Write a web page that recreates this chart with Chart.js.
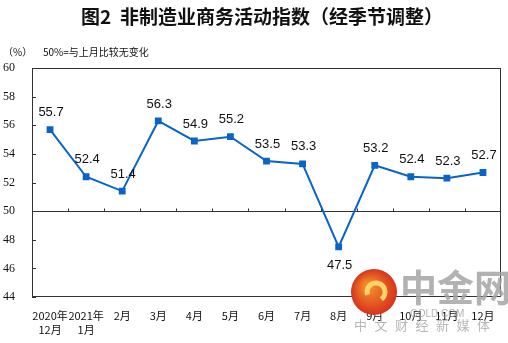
<!DOCTYPE html>
<html lang="zh">
  <head>
    <meta charset="UTF-8" />
    <title>非制造业商务活动指数</title>
    <script src="https://cdn.jsdelivr.net/npm/chart.js@4"></script>
    <style>
      html, body { margin: 0; padding: 0; background: #fff; }
      #wrap { width: 508px; height: 343px; position: relative; }
    </style>
  </head>
  <body>
    <div id="wrap"><canvas id="pmi-chart" width="508" height="343"></canvas></div>
    <script>
      const months = [
        ["2020年", "12月"], ["2021年", "1月"], "2月", "3月", "4月", "5月",
        "6月", "7月", "8月", "9月", "10月", "11月", "12月",
      ];
      const pmiValues = [55.7, 52.4, 51.4, 56.3, 54.9, 55.2, 53.5, 53.3, 47.5, 53.2, 52.4, 52.3, 52.7];
      const yTicks = [44, 46, 48, 50, 52, 54, 56, 58, 60];
      const baseline = 50;
      const chartTitle = "图2  非制造业商务活动指数（经季节调整）";

      const lineBlue = "#0a64c8";
      const axisColor = "#333";

      // frame, 50 line, inward ticks, titles, value labels, watermark
      const decorations = {
        id: "decorations",
        beforeDatasetsDraw(chart) {
          const { ctx, chartArea: a, scales } = chart;
          const y = scales.y;
          ctx.save();
          ctx.strokeStyle = axisColor;
          ctx.lineWidth = 1;
          ctx.strokeRect(a.left + 0.5, a.top + 0.5, a.right - a.left - 1, a.bottom - a.top - 1);
          const y50 = Math.round(y.getPixelForValue(baseline)) + 0.5;
          ctx.beginPath();
          ctx.moveTo(a.left, y50);
          ctx.lineTo(a.right, y50);
          yTicks.forEach((v) => {
            const py = Math.round(y.getPixelForValue(v)) + 0.5;
            ctx.moveTo(a.left, py);
            ctx.lineTo(a.left + 4, py);
          });
          const step = (a.right - a.left) / months.length;
          for (let i = 1; i < months.length; i++) {
            const px = Math.round(a.left + step * i) + 0.5;
            ctx.moveTo(px, y50);
            ctx.lineTo(px, y50 - 3);
          }
          ctx.stroke();
          ctx.restore();
        },
        afterDatasetsDraw(chart) {
          const { ctx } = chart;
          const meta = chart.getDatasetMeta(0);
          ctx.save();
          ctx.fillStyle = "#111";
          ctx.font = "bold 19px 'Noto Sans CJK SC'";
          ctx.textAlign = "center";
          ctx.textBaseline = "middle";
          ctx.fillText(chartTitle, 262, 17);
          ctx.font = "10px 'Noto Sans CJK SC'";
          ctx.textAlign = "left";
          ctx.fillText("（%）", 3, 52);
          ctx.fillText("50%=与上月比较无变化", 43, 52);

          ctx.font = "13px 'Liberation Sans'";
          ctx.textAlign = "center";
          meta.data.forEach((pt, i) => {
            const v = pmiValues[i];
            const dy = v < baseline ? 19 : -17;
            ctx.fillText(v.toFixed(1), pt.x + 1, pt.y + dy);
          });

          // watermark
          const cx = 374, cy = 292;
          const g = ctx.createRadialGradient(cx - 6, cy - 6, 4, cx, cy, 23);
          g.addColorStop(0, "#f08a2a");
          g.addColorStop(1, "#d8321c");
          ctx.fillStyle = g;
          ctx.beginPath();
          ctx.arc(cx, cy, 23, 0, Math.PI * 2);
          ctx.fill();
          ctx.strokeStyle = "#fbd36a";
          ctx.lineWidth = 5;
          ctx.beginPath();
          ctx.arc(cx + 2, cy, 9, Math.PI * 0.9, Math.PI * 2.3);
          ctx.stroke();
          ctx.fillStyle = "rgba(165,165,165,0.85)";
          ctx.font = "bold 37px 'Noto Sans CJK SC'";
          ctx.textAlign = "left";
          ctx.fillText("中金网", 400, 288);
          ctx.font = "10px 'Liberation Sans'";
          ctx.fillText("GOLD.COM", 410, 314);
          ctx.fillStyle = "rgba(175,175,175,0.9)";
          ctx.font = "13px 'Noto Sans CJK SC'";
          const sub = "中文财经新媒体";
          for (let k = 0; k < sub.length; k++) {
            ctx.fillText(sub[k], 354 + k * 20.5, 325);
          }
          ctx.restore();
        },
      };

      new Chart(document.getElementById("pmi-chart"), {
        type: "line",
        data: {
          labels: months,
          datasets: [
            {
              data: pmiValues,
              borderColor: lineBlue,
              backgroundColor: lineBlue,
              borderWidth: 2,
              pointStyle: "rect",
              pointRadius: 3.4,
              pointHoverRadius: 3.4,
              tension: 0,
              fill: false,
            },
          ],
        },
        options: {
          responsive: false,
          animation: false,
          events: [],
          layout: { padding: { top: 68, right: 7, left: 0, bottom: 0 } },
          plugins: { legend: { display: false }, tooltip: { enabled: false } },
          scales: {
            x: {
              offset: true,
              grid: { display: false },
              border: { display: false },
              ticks: {
                color: "#111",
                font: { family: "'Noto Sans CJK SC'", size: 11, lineHeight: 1.25 },
                padding: 4,
                maxRotation: 0,
                autoSkip: false,
              },
              afterFit(scale) { scale.height = 46; },
            },
            y: {
              min: 44,
              max: 60,
              grid: { display: false },
              border: { display: false },
              afterBuildTicks(scale) { scale.ticks = yTicks.map((v) => ({ value: v })); },
              ticks: {
                color: "#111",
                font: { family: "'Liberation Serif'", size: 12 },
                padding: 9,
              },
              afterFit(scale) { scale.width = 32; },
            },
          },
        },
        plugins: [decorations],
      });
    </script>
  </body>
</html>
